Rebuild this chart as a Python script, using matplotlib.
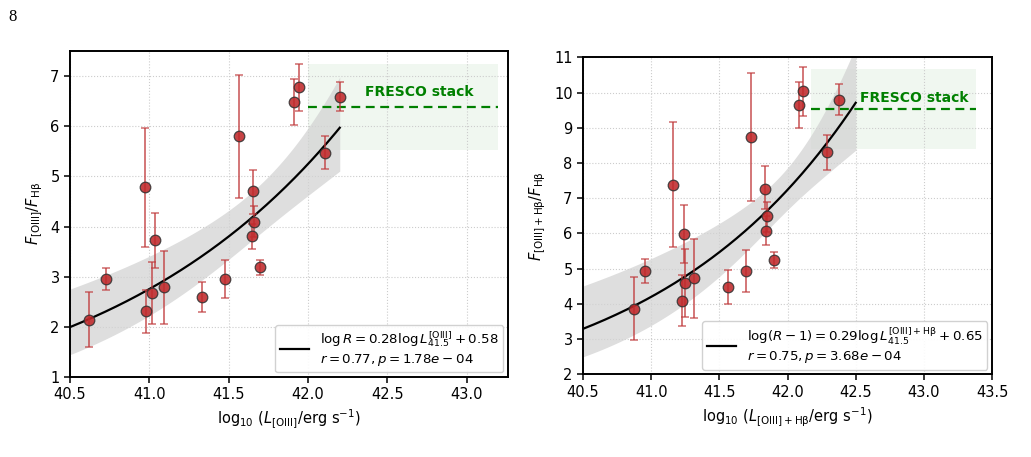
import numpy as np
import matplotlib
matplotlib.use("Agg")
import matplotlib.pyplot as plt
from matplotlib.lines import Line2D

# --- left panel: [OIII]/Hb vs L[OIII]
l_x = [40.62, 40.726, 40.975, 40.977, 41.015, 41.036, 41.09, 41.33, 41.477,
       41.563, 41.655, 41.66, 41.65, 41.695, 41.912, 41.94, 42.107, 42.203]
l_y = [2.14, 2.96, 4.78, 2.31, 2.68, 3.73, 2.80, 2.60, 2.96,
       5.80, 4.70, 4.10, 3.81, 3.19, 6.49, 6.78, 5.47, 6.59]
l_hi = [2.69, 3.17, 5.96, 2.74, 3.29, 4.27, 3.51, 2.90, 3.34,
        7.03, 5.13, 4.40, 4.05, 3.33, 6.95, 7.25, 5.80, 6.89]
l_lo = [1.60, 2.73, 3.59, 1.88, 2.06, 3.18, 2.06, 2.30, 2.57,
        4.57, 4.26, 3.80, 3.55, 3.04, 6.02, 6.30, 5.14, 6.30]
l_fit = (0.28, 0.58)          # slope, intercept of log R
l_band = (0.00239, 0.011, 41.75)  # a, b, centre of confidence band (log)
l_fresco = dict(x0=42.0, x1=43.2, y=6.38, lo=5.52, hi=7.25, tx=42.70, ty=6.68)

# --- right panel: ([OIII]+Hb)/Hb vs L[OIII]+Hb
r_x = [40.876, 40.951, 41.163, 41.223, 41.238, 41.245, 41.313, 41.563, 41.692,
       41.735, 41.835, 41.85, 41.845, 41.90, 42.086, 42.11, 42.287, 42.375]
r_y = [3.86, 4.94, 7.38, 4.08, 5.98, 4.58, 4.73, 4.47, 4.94,
       8.73, 7.26, 6.48, 6.08, 5.25, 9.65, 10.04, 8.31, 9.79]
r_hi = [4.75, 5.28, 9.16, 4.81, 6.80, 5.55, 5.85, 4.95, 5.53,
        10.55, 7.91, 6.90, 6.50, 5.48, 10.30, 10.73, 8.80, 10.23]
r_lo = [2.97, 4.58, 5.60, 3.38, 5.17, 3.62, 3.61, 3.99, 4.35,
        6.93, 6.70, 6.05, 5.68, 5.03, 8.98, 9.33, 7.80, 9.36]
r_fit = (0.29, 0.65)          # slope, intercept of log(R-1)
r_band = (0.00172, 0.01444, 42.0)
r_fresco = dict(x0=42.17, x1=43.38, y=9.52, lo=8.39, hi=10.66, tx=42.93, ty=9.85)

plt.rcParams['font.family'] = 'DejaVu Sans'
plt.rcParams['mathtext.fontset'] = 'dejavusans'

fig = plt.figure(figsize=(10.31, 4.57), dpi=100)
ax1 = fig.add_axes([0.0679, 0.175, 0.4248, 0.7134])
ax2 = fig.add_axes([0.5655, 0.181, 0.3967, 0.6936])


def draw_panel(ax, x, y, lo, hi, fit, band, fresco, xend, offset, label):
    x = np.asarray(x)
    y = np.asarray(y)
    # fit line with confidence band (in log space)
    xx = np.linspace(40.5, xend, 200)
    logr = fit[0] * (xx - 41.5) + fit[1]
    w = np.sqrt(band[0] + band[1] * (xx - band[2]) ** 2)
    ax.fill_between(xx, 10 ** (logr - w) + offset, 10 ** (logr + w) + offset,
                    color='#d3d3d3', alpha=0.75, lw=0, zorder=1)
    ax.plot(xx, 10 ** logr + offset, color='black', lw=1.6, zorder=3)

    # FRESCO stack
    ax.fill_between([fresco['x0'], fresco['x1']], fresco['lo'], fresco['hi'],
                    color='green', alpha=0.06, lw=0, zorder=0)
    ax.plot([fresco['x0'], fresco['x1']], [fresco['y'], fresco['y']],
            color='green', ls=(0, (4, 2.5)), lw=1.6, zorder=2)
    ax.text(fresco['tx'], fresco['ty'], 'FRESCO stack', color='green',
            fontweight='bold', fontsize=10, ha='center', va='center')

    yerr = [y - np.asarray(lo), np.asarray(hi) - y]
    ax.errorbar(x, y, yerr=yerr, fmt='none', ecolor='#c0393b', alpha=0.75,
                elinewidth=1.3, capsize=3, capthick=1.1, zorder=4)
    ax.scatter(x, y, s=58, color='#c0292b', edgecolor='#333333', lw=0.9,
               alpha=0.88, zorder=5)

    ax.grid(True, ls=':', color='#cccccc', lw=0.8)
    ax.set_axisbelow(True)
    for sp in ax.spines.values():
        sp.set_linewidth(1.4)
    ax.tick_params(labelsize=10.5, width=1.1, length=4)
    h = Line2D([], [], color='black', lw=1.6)
    ax.legend([h], [label], loc='lower right', fontsize=9.6,
              handlelength=2.2, borderaxespad=0.35, borderpad=0.35,
              labelspacing=0.2, framealpha=0.9)


draw_panel(ax1, l_x, l_y, l_lo, l_hi, l_fit, l_band, l_fresco, 42.2, 0,
           '$\\log R = 0.28\\log L_{41.5}^{\\rm [OIII]} + 0.58$\n'
           '$r = 0.77, p = 1.78e-04$')
ax1.set_xlim(40.5, 43.26)
ax1.set_ylim(1, 7.5)
ax1.set_xticks([40.5, 41.0, 41.5, 42.0, 42.5, 43.0])
ax1.set_yticks(range(1, 8))
ax1.set_xlabel('$\\log_{10}\\,(L_{\\rm [OIII]}/{\\rm erg\\ s^{-1}})$', fontsize=10.5)
ax1.set_ylabel('$F_{\\rm [OIII]}/F_{\\rm H\\beta}$', fontsize=10.5)

draw_panel(ax2, r_x, r_y, r_lo, r_hi, r_fit, r_band, r_fresco, 42.5, 1,
           '$\\log(R-1) = 0.29\\log L_{41.5}^{\\rm [OIII]+H\\beta} + 0.65$\n'
           '$r = 0.75, p = 3.68e-04$')
ax2.set_xlim(40.5, 43.5)
ax2.set_ylim(2, 11)
ax2.set_xticks([40.5, 41.0, 41.5, 42.0, 42.5, 43.0, 43.5])
ax2.set_yticks(range(2, 12))
ax2.set_xlabel('$\\log_{10}\\,(L_{\\rm [OIII]+H\\beta}/{\\rm erg\\ s^{-1}})$', fontsize=10.5)
ax2.set_ylabel('$F_{\\rm [OIII]+H\\beta}/F_{\\rm H\\beta}$', fontsize=10.5)

fig.text(0.008, 0.962, '8', fontsize=12, family='Liberation Serif', va='center')

fig.savefig('out.png', dpi=100, facecolor='white')
